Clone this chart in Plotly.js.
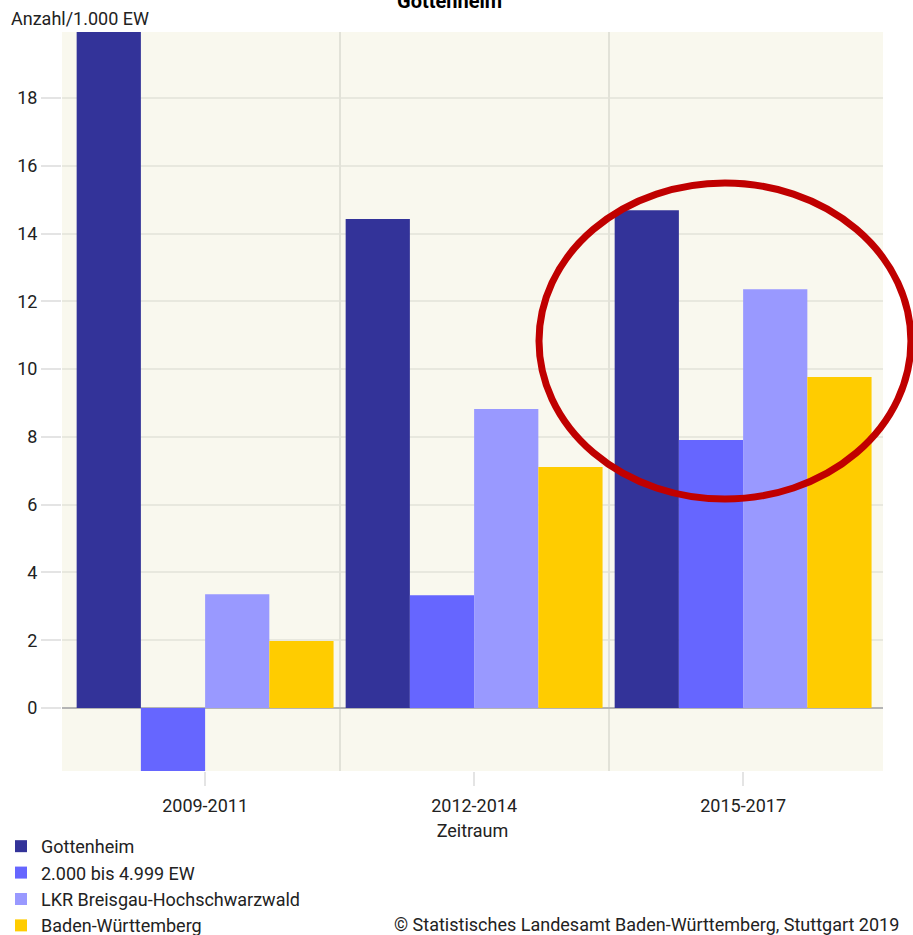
<!DOCTYPE html>
<html><head><meta charset="utf-8">
<script src="https://cdn.plot.ly/plotly-3.0.1.min.js"></script>
<style>body{margin:0;padding:0;background:#fff}#chart{width:913px;height:935px}</style>
</head><body><div id="chart"></div>
<script>
const categories = ["2009-2011", "2012-2014", "2015-2017"];
const seriesNames = ["Gottenheim", "2.000 bis 4.999 EW", "LKR Breisgau-Hochschwarzwald", "Baden-Württemberg"];
const gottenheim = [21.0, 14.43, 14.69];
const gemeindegroesse = [-2.5, 3.33, 7.91];
const lkr = [3.36, 8.82, 12.36];
const bw = [1.98, 7.11, 9.77];
const colors = ["#333399", "#6666ff", "#9999ff", "#ffcc00"];
const yTicks = [0, 2, 4, 6, 8, 10, 12, 14, 16, 18];

const font = "Roboto, 'Open Sans', sans-serif";
const values = [gottenheim, gemeindegroesse, lkr, bw];
const traces = values.map((v, i) => ({
  type: "bar", name: seriesNames[i], x: categories, y: v,
  marker: {color: colors[i], line: {width: 0}},
  legendgroup: "g" + i, hoverinfo: "skip", cliponaxis: true
}));
traces.push({type: "scatter", x: [0.5, 1.5], y: [0, 0], xaxis: "x2", mode: "none", showlegend: false, hoverinfo: "skip"});

const layout = {
  width: 913, height: 935,
  margin: {l: 62, r: 30, t: 32, b: 164, autoexpand: false},
  paper_bgcolor: "#ffffff", plot_bgcolor: "#f9f8ee",
  barmode: "group", bargap: 0.045, bargroupgap: 0,
  font: {family: font, size: 18, color: "#222"},
  showlegend: true,
  legend: {x: -0.0743, xanchor: "left", y: -0.0771, yanchor: "top", orientation: "v",
    font: {family: font, size: 18, color: "#222"}, tracegroupgap: 5, traceorder: "normal", bgcolor: "rgba(0,0,0,0)"},
  xaxis: {type: "category", range: [-0.532, 2.52], showgrid: false, zeroline: false,
    ticks: "outside", ticklen: 14, tickcolor: "#e4e4e4", tickwidth: 2, ticklabelstandoff: 4,
    tickfont: {family: font, size: 18, color: "#222"},
    title: {text: "Zeitraum", font: {family: font, size: 18, color: "#222"}, standoff: 9}},
  xaxis2: {overlaying: "x", range: [-0.532, 2.52], tickvals: [0.5, 1.5], showticklabels: false,
    showgrid: true, gridcolor: "#e2e2d8", gridwidth: 2, zeroline: false, ticks: ""},
  yaxis: {range: [-1.86, 19.95], tickvals: yTicks, ticktext: yTicks.map(String),
    showgrid: true, gridcolor: "#e8e8de", gridwidth: 2,
    zeroline: true, zerolinecolor: "#b4b4b4", zerolinewidth: 2,
    ticks: "outside", ticklen: 20, tickcolor: "#e4e4e4", tickwidth: 2,
    tickfont: {family: font, size: 18, color: "#222"}},
  annotations: [
    {text: "<b>Gottenheim</b>", xref: "paper", yref: "paper", x: 0.472, y: 1, yshift: 31, xanchor: "center", yanchor: "middle",
      showarrow: false, font: {family: font, size: 20, color: "#000"}},
    {text: "Anzahl/1.000 EW", xref: "paper", yref: "paper", x: -0.0645, y: 1, yshift: 14, xanchor: "left", yanchor: "middle",
      showarrow: false, font: {family: font, size: 18, color: "#222"}},
    {text: "© Statistisches Landesamt Baden-Württemberg, Stuttgart 2019", xref: "paper", yref: "paper", x: 1.022, y: 0, yshift: -153,
      xanchor: "right", yanchor: "middle", showarrow: false, font: {family: font, size: 18, color: "#222"}}
  ],
  shapes: [
    {type: "circle", xref: "paper", yref: "paper", x0: 0.581, x1: 1.034, y0: 0.368, y1: 0.7957,
      line: {color: "#c00000", width: 7}, fillcolor: "rgba(0,0,0,0)", layer: "above"}
  ]
};
Plotly.newPlot("chart", traces, layout, {displayModeBar: false, staticPlot: true});
</script></body></html>
